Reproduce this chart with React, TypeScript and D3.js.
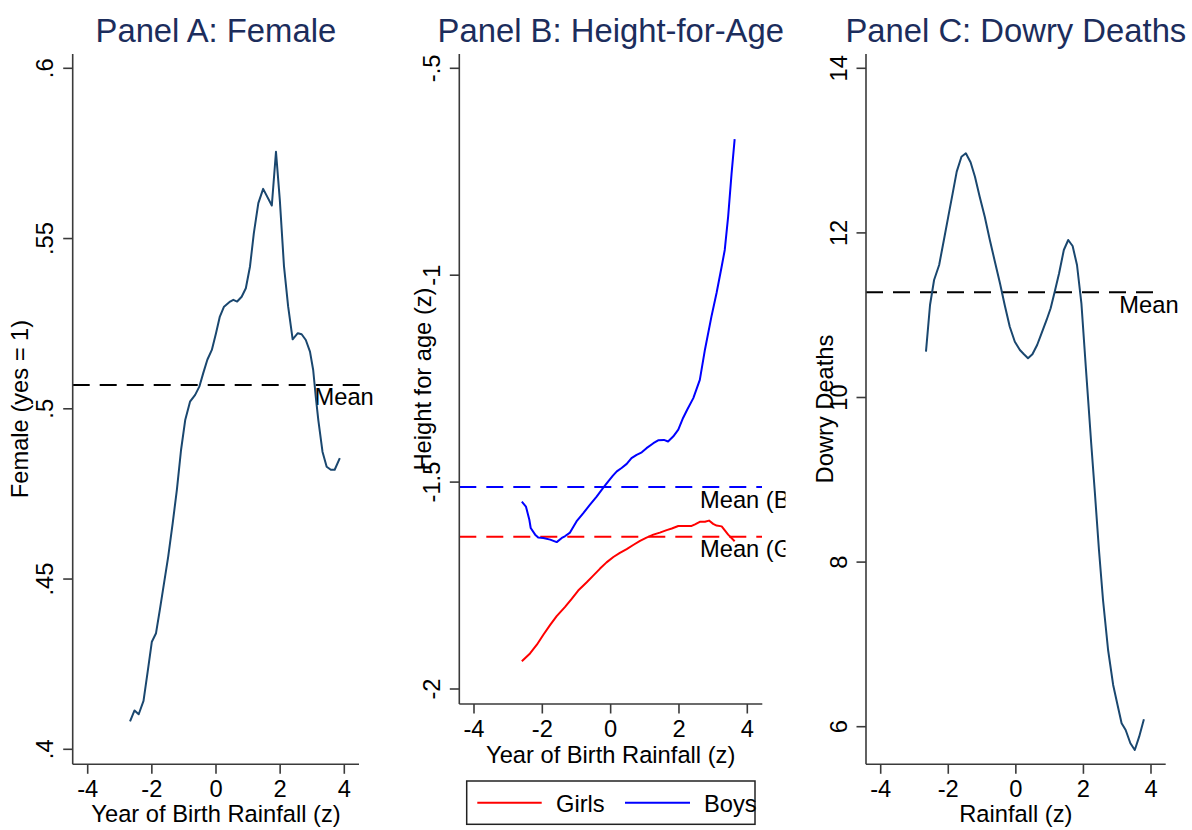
import React from "react";
import * as d3 from "d3";

// ---------- DATA ----------
const xTicks = [-4, -2, 0, 2, 4];

// Panel A: Female
const femaleX = [-2.68, -2.54, -2.41, -2.26, -2.13, -2.0, -1.87, -1.75, -1.62, -1.49, -1.35, -1.22, -1.09, -0.96, -0.81, -0.65, -0.52, -0.4, -0.27, -0.13, 0, 0.12, 0.25, 0.44, 0.54, 0.66, 0.8, 0.93, 1.06, 1.18, 1.32, 1.47, 1.74, 1.87, 1.99, 2.12, 2.25, 2.39, 2.55, 2.67, 2.8, 2.93, 3.03, 3.11, 3.19, 3.32, 3.45, 3.58, 3.7, 3.86];
const femaleY = [0.4082, 0.4114, 0.4103, 0.4142, 0.4228, 0.4316, 0.4341, 0.441, 0.4488, 0.4566, 0.4664, 0.4762, 0.4879, 0.4967, 0.5021, 0.5041, 0.5065, 0.5104, 0.5144, 0.5173, 0.5222, 0.5271, 0.53, 0.5315, 0.532, 0.5315, 0.5329, 0.5354, 0.5418, 0.5516, 0.5604, 0.5646, 0.5597, 0.5755, 0.5613, 0.5418, 0.53, 0.5204, 0.5222, 0.5219, 0.5202, 0.5168, 0.5114, 0.5036, 0.4967, 0.4874, 0.483, 0.4821, 0.4821, 0.4855];
const femaleMean = 0.507;
const femaleYTicks = [0.4, 0.45, 0.5, 0.55, 0.6];
const femaleYTickLabels = [".4", ".45", ".5", ".55", ".6"];

// Panel B: Height-for-Age
const boysX = [-2.6, -2.48, -2.38, -2.34, -2.21, -2.12, -1.97, -1.77, -1.58, -1.43, -1.34, -1.19, -1.0, -0.8, -0.61, -0.41, -0.22, -0.07, 0.06, 0.18, 0.32, 0.47, 0.61, 0.76, 0.91, 1.05, 1.25, 1.39, 1.56, 1.68, 1.83, 1.98, 2.12, 2.24, 2.42, 2.61, 2.76, 2.95, 3.1, 3.25, 3.34, 3.44, 3.54, 3.63];
const boysY = [-1.547, -1.559, -1.591, -1.611, -1.627, -1.634, -1.635, -1.639, -1.645, -1.635, -1.631, -1.622, -1.595, -1.575, -1.555, -1.535, -1.514, -1.498, -1.485, -1.474, -1.466, -1.456, -1.442, -1.434, -1.428, -1.418, -1.406, -1.399, -1.398, -1.402, -1.39, -1.373, -1.345, -1.325, -1.297, -1.253, -1.18, -1.1, -1.043, -0.979, -0.939, -0.858, -0.754, -0.671];
const girlsX = [-2.6, -2.36, -2.16, -1.97, -1.77, -1.58, -1.34, -1.14, -0.95, -0.7, -0.51, -0.31, -0.12, 0.08, 0.27, 0.47, 0.66, 0.86, 1.05, 1.25, 1.44, 1.64, 1.79, 1.98, 2.17, 2.37, 2.47, 2.61, 2.76, 2.88, 3.0, 3.1, 3.25, 3.44, 3.63];
const girlsY = [-1.933, -1.914, -1.893, -1.869, -1.845, -1.824, -1.802, -1.782, -1.762, -1.742, -1.726, -1.709, -1.694, -1.681, -1.671, -1.662, -1.652, -1.642, -1.634, -1.627, -1.622, -1.616, -1.612, -1.606, -1.606, -1.606, -1.602, -1.596, -1.596, -1.593, -1.601, -1.605, -1.607, -1.627, -1.643];
const boysMean = -1.512;
const girlsMean = -1.632;
const heightYTicks = [-2, -1.5, -1, -0.5];
const heightYTickLabels = ["-2", "-1.5", "-1", "-.5"];

// Panel C: Dowry Deaths
const dowryX = [-2.66, -2.54, -2.42, -2.27, -2.13, -2.0, -1.87, -1.75, -1.61, -1.48, -1.34, -1.21, -1.07, -0.92, -0.77, -0.62, -0.47, -0.33, -0.18, -0.03, 0.12, 0.24, 0.36, 0.49, 0.63, 0.76, 0.91, 1.03, 1.15, 1.28, 1.42, 1.55, 1.68, 1.81, 1.94, 2.07, 2.14, 2.23, 2.34, 2.46, 2.58, 2.73, 2.88, 3.01, 3.13, 3.25, 3.39, 3.52, 3.65, 3.79];
const dowryY = [10.557, 11.124, 11.428, 11.61, 11.914, 12.197, 12.481, 12.744, 12.926, 12.967, 12.858, 12.683, 12.44, 12.197, 11.914, 11.65, 11.388, 11.124, 10.86, 10.678, 10.577, 10.525, 10.477, 10.525, 10.638, 10.78, 10.942, 11.084, 11.286, 11.509, 11.792, 11.914, 11.841, 11.61, 11.145, 10.374, 9.97, 9.444, 8.836, 8.147, 7.54, 6.932, 6.507, 6.264, 6.042, 5.96, 5.799, 5.717, 5.879, 6.09];
const dowryMean = 11.278;
const dowryYTicks = [6, 8, 10, 12, 14];
const dowryYTickLabels = ["6", "8", "10", "12", "14"];

// ---------- STYLE ----------
const FONT = "'Liberation Sans', Arial, Helvetica, sans-serif";
const TITLE_COLOR = "#1c2d5c";
const NAVY = "#1a476f";
const AXIS_COLOR = "#3a3a3a";
const FS = 23.7;
const TFS = 32.8;
const DASH = "17,10";

type Series = { xs: number[]; ys: number[]; color: string };
type MeanLine = { value: number; color: string; label: string; x2: number };

type PanelProps = {
  id: string;
  title: string;
  xTitle: string;
  yTitle: string;
  xRange: [number, number];
  yDomain: [number, number];
  yRange: [number, number];
  yTicks: number[];
  yTickLabels: string[];
  axisLeft: number;
  axisRight: number;
  axisTop: number;
  axisBottom: number;
  yTickLabelX: number;
  yTitleX: number;
  yTitleY: number;
  xTickLabelY: number;
  xTitleY: number;
  series: Series[];
  means: MeanLine[];
  meanLabelX: number;
  meanLabelDy: number;
  clipRight: number;
};

function Panel(p: PanelProps) {
  const x = d3.scaleLinear().domain([-4, 4]).range(p.xRange);
  const y = d3.scaleLinear().domain(p.yDomain).range(p.yRange);
  const line = d3
    .line<[number, number]>()
    .x((d) => x(d[0]))
    .y((d) => y(d[1]));
  const cx = (p.axisLeft + p.axisRight) / 2;
  return (
    <g>
      <defs>
        <clipPath id={`clip-${p.id}`}>
          <rect x={p.axisLeft - 80} y={0} width={p.clipRight - p.axisLeft + 80} height={830} />
        </clipPath>
      </defs>
      <text x={cx} y={41.7} textAnchor="middle" fontSize={TFS} fill={TITLE_COLOR} fontFamily={FONT}>
        {p.title}
      </text>
      <g clipPath={`url(#clip-${p.id})`}>
        {p.means.map((m, i) => (
          <g key={i}>
            <line
              x1={p.axisLeft}
              x2={m.x2}
              y1={y(m.value)}
              y2={y(m.value)}
              stroke={m.color}
              strokeWidth={2}
              strokeDasharray={DASH}
            />
            <text x={p.meanLabelX} y={y(m.value) + p.meanLabelDy} fontSize={FS} fontFamily={FONT} fill="#000">
              {m.label}
            </text>
          </g>
        ))}
      </g>
      {p.series.map((s, i) => (
        <path
          key={i}
          d={line(s.xs.map((v, j) => [v, s.ys[j]] as [number, number])) || ""}
          fill="none"
          stroke={s.color}
          strokeWidth={2}
          strokeLinejoin="round"
        />
      ))}
      <line x1={p.axisLeft} x2={p.axisLeft} y1={p.axisTop} y2={p.axisBottom} stroke={AXIS_COLOR} strokeWidth={1.6} />
      <line x1={p.axisLeft} x2={p.axisRight} y1={p.axisBottom} y2={p.axisBottom} stroke={AXIS_COLOR} strokeWidth={1.6} />
      {p.yTicks.map((t, i) => (
        <g key={`yt${i}`}>
          <line x1={p.axisLeft - 9.5} x2={p.axisLeft} y1={y(t)} y2={y(t)} stroke={AXIS_COLOR} strokeWidth={1.6} />
          <text
            transform={`translate(${p.yTickLabelX},${y(t)}) rotate(-90)`}
            textAnchor="middle"
            fontSize={FS}
            fontFamily={FONT}
            fill="#000"
          >
            {p.yTickLabels[i]}
          </text>
        </g>
      ))}
      {xTicks.map((t, i) => (
        <g key={`xt${i}`}>
          <line x1={x(t)} x2={x(t)} y1={p.axisBottom} y2={p.axisBottom + 9.5} stroke={AXIS_COLOR} strokeWidth={1.6} />
          <text x={x(t)} y={p.xTickLabelY} textAnchor="middle" fontSize={FS} fontFamily={FONT} fill="#000">
            {String(t)}
          </text>
        </g>
      ))}
      <text x={x(0)} y={p.xTitleY} textAnchor="middle" fontSize={FS} fontFamily={FONT} fill="#000">
        {p.xTitle}
      </text>
      <text
        transform={`translate(${p.yTitleX},${p.yTitleY}) rotate(-90)`}
        textAnchor="middle"
        fontSize={FS}
        fontFamily={FONT}
        fill="#000"
      >
        {p.yTitle}
      </text>
    </g>
  );
}

export default function App() {
  return (
    <div style={{ position: "absolute", left: 0, top: 0 }}>
      <svg width={1192} height={830} viewBox="0 0 1192 830" style={{ display: "block", background: "#fff" }}>
        <rect x={0} y={0} width={1192} height={830} fill="#fff" />
        <Panel
          id="a"
          title="Panel A: Female"
          xTitle="Year of Birth Rainfall (z)"
          yTitle="Female (yes = 1)"
          xRange={[87.7, 344.3]}
          yDomain={[0.4, 0.6]}
          yRange={[749.3, 68.3]}
          yTicks={femaleYTicks}
          yTickLabels={femaleYTickLabels}
          axisLeft={72.7}
          axisRight={359}
          axisTop={54}
          axisBottom={764.3}
          yTickLabelX={53.3}
          yTitleX={28.3}
          yTitleY={409}
          xTickLabelY={797}
          xTitleY={822}
          series={[{ xs: femaleX, ys: femaleY, color: NAVY }]}
          means={[{ value: femaleMean, color: "#000", label: "Mean", x2: 360 }]}
          meanLabelX={314.5}
          meanLabelDy={20.5}
          clipRight={1192}
        />
        <Panel
          id="b"
          title="Panel B: Height-for-Age"
          xTitle="Year of Birth Rainfall (z)"
          yTitle="Height for age (z)"
          xRange={[474, 747.3]}
          yDomain={[-2, -0.5]}
          yRange={[689, 68.3]}
          yTicks={heightYTicks}
          yTickLabels={heightYTickLabels}
          axisLeft={459.3}
          axisRight={762.3}
          axisTop={54}
          axisBottom={704}
          yTickLabelX={440}
          yTitleX={431}
          yTitleY={379}
          xTickLabelY={737}
          xTitleY={763}
          series={[
            { xs: girlsX, ys: girlsY, color: "#ff0000" },
            { xs: boysX, ys: boysY, color: "#0000ff" },
          ]}
          means={[
            { value: boysMean, color: "#0000ff", label: "Mean (Boys)", x2: 762 },
            { value: girlsMean, color: "#ff0000", label: "Mean (Girls)", x2: 762 },
          ]}
          meanLabelX={700}
          meanLabelDy={20.5}
          clipRight={785.5}
        />
        <Panel
          id="c"
          title="Panel C: Dowry Deaths"
          xTitle="Rainfall (z)"
          yTitle="Dowry Deaths"
          xRange={[880.7, 1151]}
          yDomain={[6, 14]}
          yRange={[726.7, 68.3]}
          yTicks={dowryYTicks}
          yTickLabels={dowryYTickLabels}
          axisLeft={866}
          axisRight={1165.7}
          axisTop={54}
          axisBottom={764.3}
          yTickLabelX={846.7}
          yTitleX={833.3}
          yTitleY={409}
          xTickLabelY={797}
          xTitleY={822}
          series={[{ xs: dowryX, ys: dowryY, color: NAVY }]}
          means={[{ value: dowryMean, color: "#000", label: "Mean", x2: 1157 }]}
          meanLabelX={1119.3}
          meanLabelDy={20.5}
          clipRight={1192}
        />
        <g>
          <rect x={466.7} y={781} width={288.3} height={43.3} fill="#fff" stroke="#222" strokeWidth={1.5} />
          <line x1={477.3} x2={541.7} y1={802.7} y2={802.7} stroke="#ff0000" strokeWidth={2} />
          <text x={556} y={811.5} fontSize={FS} fontFamily={FONT} fill="#000">Girls</text>
          <line x1={625} x2={690} y1={802.7} y2={802.7} stroke="#0000ff" strokeWidth={2} />
          <text x={704} y={811.5} fontSize={FS} fontFamily={FONT} fill="#000">Boys</text>
        </g>
      </svg>
    </div>
  );
}
